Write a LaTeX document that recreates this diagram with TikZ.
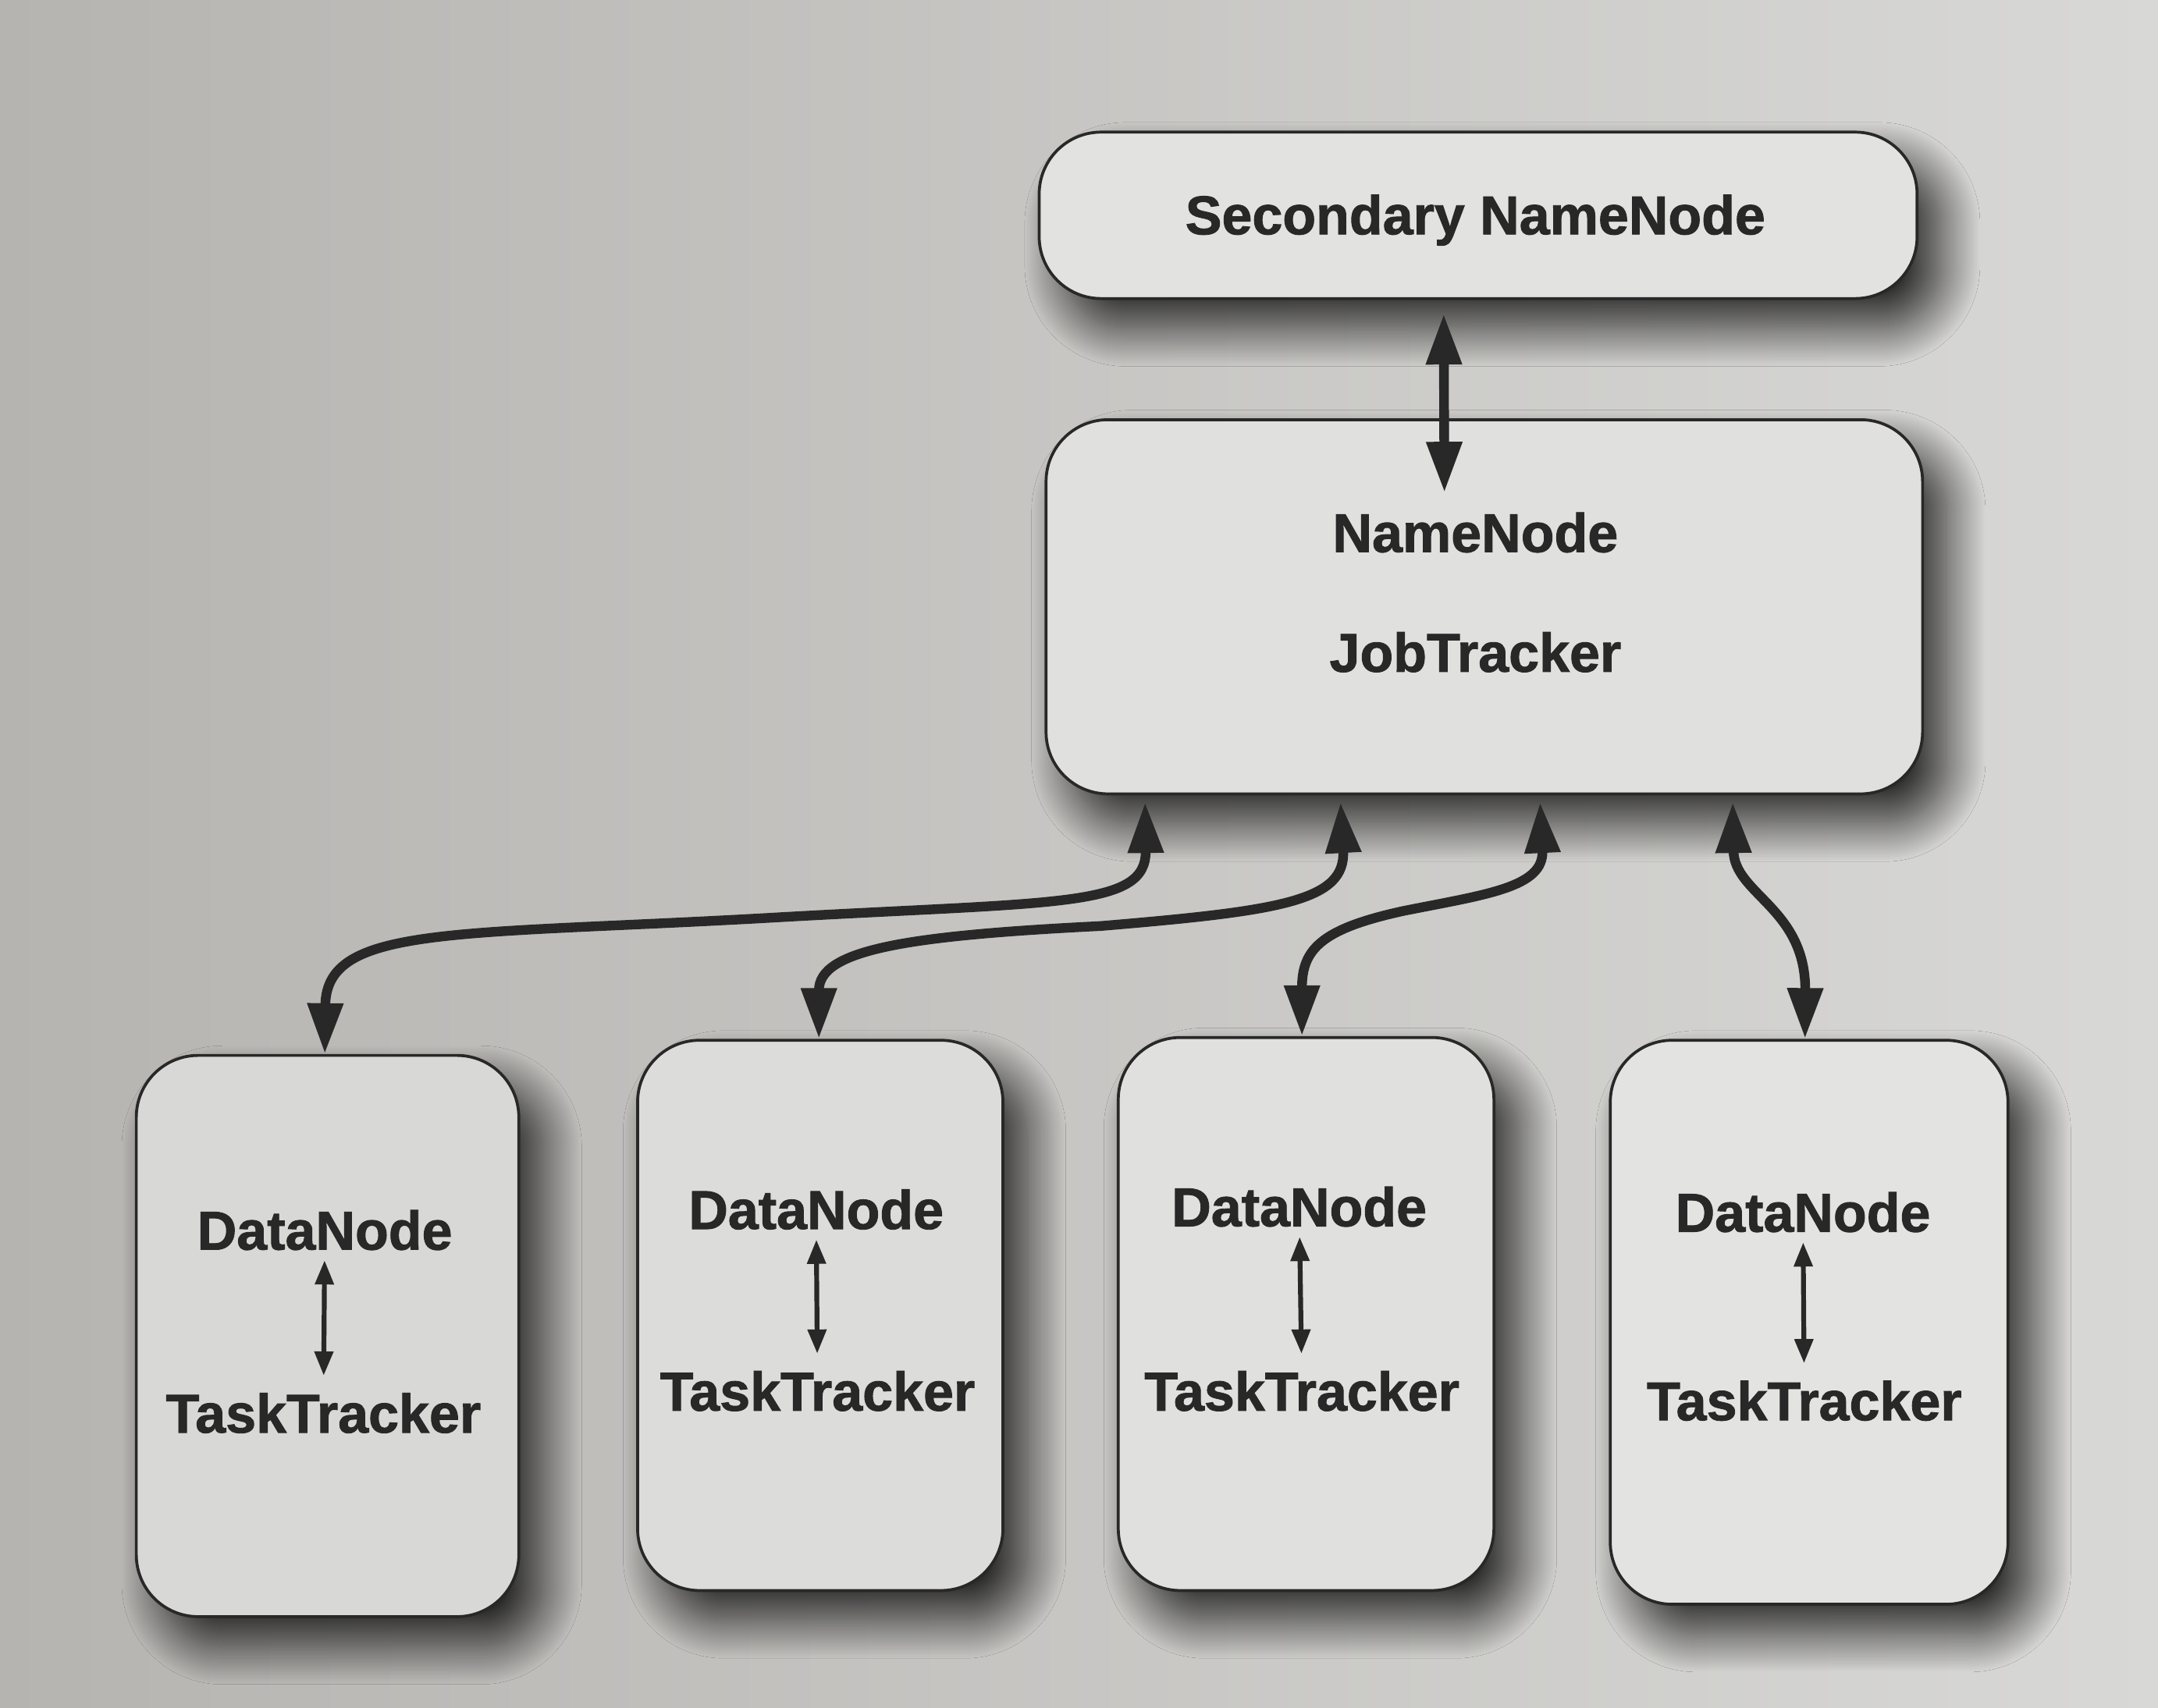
\documentclass[tikz,border=0pt]{standalone}
\usepackage{fontspec}
\newfontfamily\heavy{Liberation Sans Bold}[FakeBold=1.3]
\usetikzlibrary{arrows.meta,calc,shadows.blur}
\definecolor{bgL}{RGB}{182,180,177}
\definecolor{bgR}{RGB}{216,216,214}
\definecolor{ink}{RGB}{40,40,40}
\tikzset{
 unitbox/.style={draw=ink, line width=1.2pt, rounded corners=0.9cm,
   blur shadow={shadow xshift=10pt, shadow yshift=-12pt, shadow blur radius=16pt, shadow blur steps=40, shadow opacity=80}},
 lbl/.style={text=ink, font=\heavy\fontsize{22.6}{27}\selectfont, inner sep=0pt},
 biglink/.style={draw=ink, line width=4pt, {Triangle[length=21pt,width=14pt]}-{Triangle[length=21pt,width=14pt]}},
 minorlink/.style={draw=ink, line width=2pt, {Triangle[length=10pt,width=7.5pt]}-{Triangle[length=10pt,width=7.5pt]}, shorten <=4pt, shorten >=7pt}
}
\begin{document}
\begin{tikzpicture}[x=0.02cm,y=-0.02cm]
\shade[left color=bgL, right color=bgR] (0,0) rectangle (1568,1241);
\useasboundingbox (0,0) rectangle (1568,1241);

% boxes
\node[unitbox, fill={rgb,255:red,226;green,226;blue,224}, minimum width=12.76cm, minimum height=2.42cm] (sec) at (1074,156.5) {};
\node[unitbox, fill={rgb,255:red,224;green,224;blue,222}, minimum width=12.74cm, minimum height=5.44cm] (nn) at (1078.5,441) {};
\node[unitbox, fill={rgb,255:red,216;green,216;blue,214}, minimum width=5.56cm, minimum height=8.16cm] (dn1) at (238,971) {};
\node[unitbox, fill={rgb,255:red,220;green,220;blue,218}, minimum width=5.31cm, minimum height=8.00cm] (dn2) at (596,956) {};
\node[unitbox, fill={rgb,255:red,224;green,224;blue,222}, minimum width=5.46cm, minimum height=8.04cm] (dn3) at (949,955) {};
\node[unitbox, fill={rgb,255:red,227;green,227;blue,225}, minimum width=5.78cm, minimum height=8.20cm] (dn4) at (1314.5,961) {};

% labels
\node[lbl] (secl) at (1072,160) {Secondary NameNode};
\node[lbl] (nnl) at (1072,387) {NameNode};
\node[lbl] (jtl) at (1072,474) {JobTracker};
\node[lbl] (d1a) at (236,894) {DataNode};
\node[lbl] (d1b) at (235,1027) {TaskTracker};
\node[lbl] (d2a) at (593,879) {DataNode};
\node[lbl] (d2b) at (594,1011) {TaskTracker};
\node[lbl] (d3a) at (944,877) {DataNode};
\node[lbl] (d3b) at (946,1011) {TaskTracker};
\node[lbl] (d4a) at (1310,881) {DataNode};
\node[lbl] (d4b) at (1311,1018) {TaskTracker};

% inner arrows
\draw[minorlink] (d1a) -- (d1b);
\draw[minorlink] (d2a) -- (d2b);
\draw[minorlink] (d3a) -- (d3b);
\draw[minorlink] (d4a) -- (d4b);

% secondary <-> namenode
\draw[biglink] ($(sec.south)+(-25,10)$) -- ($(nn.north)+(-29,54)$);

% namenode <-> datanodes
\draw[biglink] ($(nn.south west)+(73,5)$) .. controls (833,660) and (770,655) .. (560,667)
   .. controls (330,680) and (237,672) .. ($(dn1.north)+(-2,0)$);
\draw[biglink] ($(nn.south west)+(215,5)$) .. controls (978,655) and (930,662) .. (800,673)
   .. controls (660,680) and (595,690) .. ($(dn2.north)+(-1,0)$);
\draw[biglink] ($(nn.south west)+(360,5)$) .. controls (1122,645) and (1080,650) .. (1020,662)
   .. controls (960,675) and (946,690) .. ($(dn3.north)+(-3,0)$);
\draw[biglink] ($(nn.south west)+(500,5)$) .. controls (1260,650) and (1312,660) .. ($(dn4.north)+(-3,0)$);
\end{tikzpicture}
\end{document}
